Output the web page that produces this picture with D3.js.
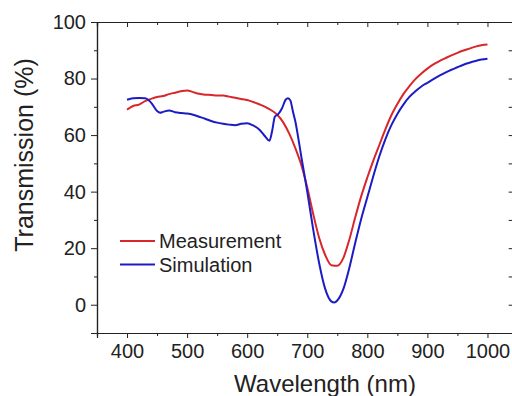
<!DOCTYPE html>
<head>
  <meta charset="utf-8">
  <script src="https://d3js.org/d3.v7.min.js"></script>
  <style>
    body { margin: 0; background: #fff; }
    svg { width: 512px; height: 396px; display: block; }
    text { font-family: "Liberation Sans", Arial, sans-serif; fill: #222; }
  </style>
</head>

<body>
  <svg></svg>

  <script>
    // measured transmission (red)
    const measWl = [400,410,420,430,440,450,460,470,480,490,500,510,520,530,540,550,560,570,580,590,
      600,610,620,630,640,650,660,670,680,690,700,710,720,730,740,750,760,770,780,790,
      800,810,820,830,840,850,860,870,880,890,900,910,920,930,940,950,960,970,980,990,1000];
    const measT = [69.0,70.3,70.8,72.0,72.8,73.5,73.8,74.5,75.0,75.5,75.8,75.2,74.6,74.3,74.2,74.0,74.0,73.6,73.2,72.8,
      72.4,71.7,70.9,70.0,68.8,67.2,64.5,60.5,55.5,49.5,41.5,32.0,23.5,17.5,14.0,13.8,16.5,23.0,31.0,38.5,
      45.0,51.0,56.5,62.0,67.0,71.0,74.5,77.3,79.8,81.8,83.5,85.0,86.2,87.2,88.2,89.1,89.9,90.6,91.3,91.8,92.0];

    // simulated transmission (blue)
    const simWl = [400,410,420,430,440,450,455,460,470,480,490,500,510,520,530,540,550,560,570,580,590,
      600,610,620,630,637,642,646,652,658,664,668,672,676,680,690,700,710,720,730,740,745,750,760,770,780,790,
      800,810,820,830,840,850,860,870,880,890,900,910,920,930,940,950,960,970,980,990,1000];
    const simT = [72.5,73.0,73.1,73.0,71.5,68.5,67.9,68.2,68.7,68.1,67.8,67.6,67.2,66.5,65.8,65.0,64.4,64.0,63.7,63.5,64.0,
      64.2,63.4,62.0,59.5,58.0,62.0,66.5,67.5,69.5,72.5,73.0,72.2,68.5,65.0,52.5,40.0,26.5,14.5,5.5,1.2,0.8,1.5,5.5,13.0,22.0,30.5,
      38.0,45.5,52.5,58.5,63.5,67.5,70.8,73.5,75.5,77.2,78.5,79.8,81.0,82.1,83.1,84.0,84.9,85.6,86.2,86.7,87.0];

    const xMajor = [400, 500, 600, 700, 800, 900, 1000];
    const xMinor = [350, 450, 550, 650, 750, 850, 950];
    const yMajor = [0, 20, 40, 60, 80, 100];
    const yMinor = [-10, 10, 30, 50, 70, 90];

    const series = [
      { name: 'Measurement', wl: measWl, t: measT, color: '#d8262a' },
      { name: 'Simulation', wl: simWl, t: simT, color: '#1c1cc4' },
    ];

    const svg = d3.select('svg');

    const x = d3.scaleLinear().domain([350, 1042]).range([97, 512.7]);
    const y = d3.scaleLinear().domain([-10, 100]).range([333, 22]);

    // axes frame
    const axisG = svg.append('g');

    axisG.append('g')
      .attr('transform', `translate(0,${y(-10)})`)
      .call(d3.axisBottom(x).tickValues(xMajor).tickSize(5).tickPadding(6).tickFormat(d3.format('d')));
    axisG.append('g')
      .attr('transform', `translate(0,${y(-10)})`)
      .call(d3.axisBottom(x).tickValues(xMinor).tickSize(3).tickFormat(''));

    axisG.append('g')
      .attr('transform', `translate(0,${y(100)})`)
      .call(d3.axisBottom(x).tickValues(xMajor).tickSize(5).tickFormat(''));
    axisG.append('g')
      .attr('transform', `translate(0,${y(100)})`)
      .call(d3.axisBottom(x).tickValues(xMinor).tickSize(3).tickFormat(''));

    axisG.append('g')
      .attr('transform', `translate(${x(350)},0)`)
      .call(d3.axisLeft(y).tickValues(yMajor).tickSize(6).tickPadding(5));
    axisG.append('g')
      .attr('transform', `translate(${x(350)},0)`)
      .call(d3.axisLeft(y).tickValues(yMinor).tickSize(3).tickFormat(''));

    axisG.append('g')
      .attr('transform', `translate(${x(1042)},0)`)
      .call(d3.axisLeft(y).tickValues(yMajor.concat(yMinor)).tickSize(4).tickFormat(''));

    axisG.selectAll('.domain').attr('stroke', '#222').attr('stroke-width', 1.2);
    axisG.selectAll('.tick line').attr('stroke', '#222').attr('stroke-width', 1);
    axisG.selectAll('.tick text')
      .style('font-family', '"Liberation Sans", Arial, sans-serif')
      .style('font-size', '20px')
      .attr('fill', '#222');

    // curves
    const line = d3.line()
      .x(d => x(d[0]))
      .y(d => y(d[1]))
      .curve(d3.curveMonotoneX);

    svg.selectAll('path.curve')
      .data(series).enter().append('path')
      .attr('class', 'curve')
      .attr('d', s => line(s.wl.map((w, i) => [w, s.t[i]])))
      .attr('fill', 'none')
      .attr('stroke', s => s.color)
      .attr('stroke-width', 2);

    // legend
    const leg = svg.append('g').attr('transform', 'translate(120,241)');
    const item = leg.selectAll('g')
      .data(series).enter().append('g')
      .attr('transform', (d, i) => `translate(0,${i * 23.5})`);
    item.append('line')
      .attr('x1', 0).attr('x2', 35)
      .attr('stroke', d => d.color)
      .attr('stroke-width', 2);
    item.append('text')
      .attr('x', 39).attr('y', 7)
      .style('font-size', '20px')
      .text(d => d.name);

    // axis titles
    svg.append('text')
      .attr('x', 325).attr('y', 392)
      .attr('text-anchor', 'middle')
      .style('font-size', '24px')
      .text('Wavelength (nm)');

    svg.append('text')
      .attr('transform', 'translate(33,155)rotate(-90)')
      .attr('text-anchor', 'middle')
      .style('font-size', '25px')
      .text('Transmission (%)');
  </script>
</body>
